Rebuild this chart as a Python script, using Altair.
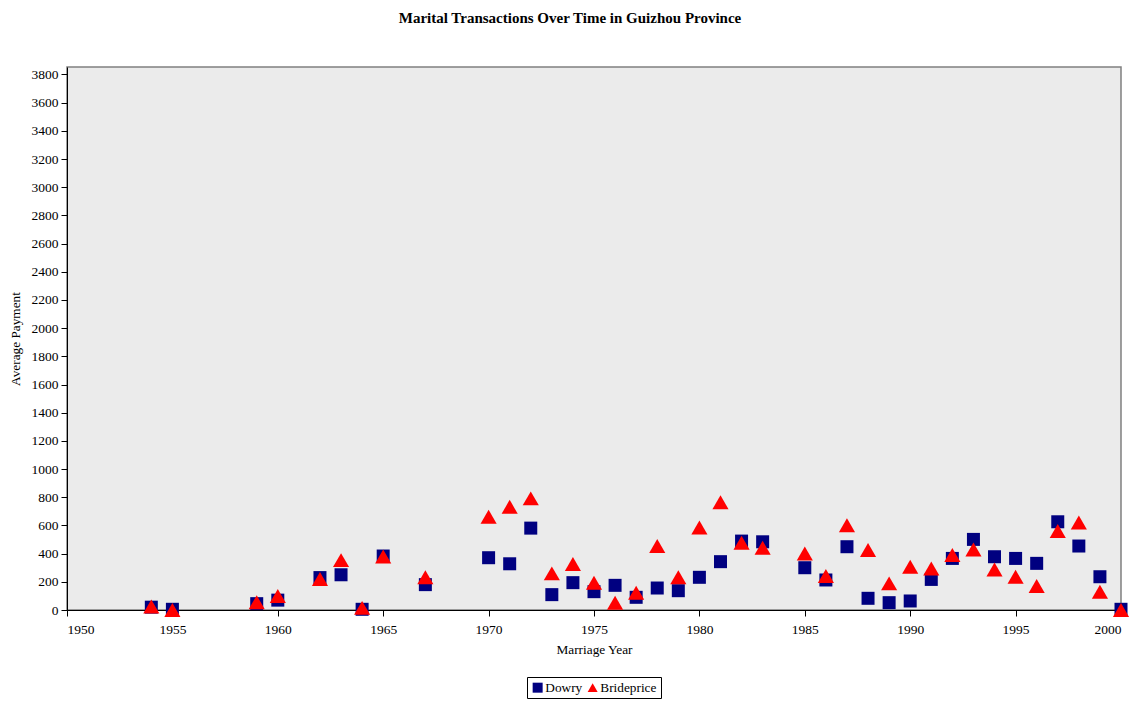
import altair as alt
import pandas as pd

years = [1954, 1955, 1959, 1960, 1962, 1963, 1964, 1965, 1967, 1970, 1971, 1972,
         1973, 1974, 1975, 1976, 1977, 1978, 1979, 1980, 1981, 1982, 1983, 1985,
         1986, 1987, 1988, 1989, 1990, 1991, 1992, 1993, 1994, 1995, 1996, 1997,
         1998, 1999, 2000]
dowry = [20, 5, 45, 70, 230, 250, 5, 383, 180, 371, 328, 581,
         109, 194, 130, 175, 90, 156, 137, 232, 343, 489, 484, 300,
         213, 449, 83, 52, 64, 217, 366, 501, 378, 366, 331, 626,
         454, 236, 5]
brideprice = [25, 0, 55, 100, 220, 354, 15, 380, 232, 661, 732, 792,
              260, 326, 194, 52, 123, 454, 232, 586, 765, 477, 442, 401,
              241, 602, 425, 189, 307, 295, 390, 430, 288, 236, 170, 560,
              621, 130, 0]
series_names = ["Dowry", "Brideprice"]
series_colors = ["#000080", "#FF0000"]
y_ticks = list(range(0, 3801, 200))
x_ticks = list(range(1950, 2001, 5))

rows = [{"year": y, "value": v, "series": "Dowry"} for y, v in zip(years, dowry)]
rows += [{"year": y, "value": v, "series": "Brideprice"} for y, v in zip(years, brideprice)]
df = pd.DataFrame(rows)

FONT = "Liberation Serif"

x_enc = alt.X("year:Q", scale=alt.Scale(domain=[1950, 2000], nice=False, zero=False),
              axis=alt.Axis(values=x_ticks, format="d", title="Marriage Year", grid=False,
                            domainColor="black", tickColor="black", tickSize=6,
                            labelFont=FONT, labelFontSize=13.5, labelColor="black",
                            titleFont=FONT, titleFontSize=13.3, titleFontWeight="normal",
                            titleColor="black", titlePadding=7, labelPadding=6))
y_enc = alt.Y("value:Q", scale=alt.Scale(domain=[0, 3853], nice=False),
              axis=alt.Axis(values=y_ticks, format="d", title="Average Payment", grid=False,
                            domainColor="black", tickColor="black", tickSize=6,
                            labelFont=FONT, labelFontSize=13.5, labelColor="black",
                            titleFont=FONT, titleFontSize=13.3, titleFontWeight="normal",
                            titleColor="black", titlePadding=9, labelPadding=3))
color_enc = alt.Color("series:N", scale=alt.Scale(domain=series_names, range=series_colors),
                      legend=alt.Legend(title=None, orient="none", direction="horizontal",
                                        legendX=460, legendY=610,
                                        labelFont=FONT, labelFontSize=13.3, labelColor="black",
                                        strokeColor="black", fillColor="white", padding=4,
                                        columnPadding=3, labelOffset=1, symbolSize=100,
                                        symbolOpacity=1, symbolStrokeWidth=0))
shape_enc = alt.Shape("series:N", scale=alt.Scale(domain=series_names,
                                                  range=["square", "triangle-up"]))

base = alt.Chart(df).mark_point(filled=True, opacity=1, strokeWidth=0)

dowry_layer = base.transform_filter(alt.datum.series == "Dowry").encode(
    x=x_enc, y=y_enc, color=color_enc, shape=shape_enc, size=alt.value(169))
bride_layer = base.transform_filter(alt.datum.series == "Brideprice").encode(
    x=x_enc, y=y_enc, color=color_enc, shape=shape_enc, size=alt.value(260))

chart = alt.layer(dowry_layer, bride_layer).properties(
    width=1054, height=543,
    title=alt.TitleParams("Marital Transactions Over Time in Guizhou Province",
                          font=FONT, fontSize=15, fontWeight="bold", color="black",
                          anchor="middle", offset=41, dx=-24),
    padding={"left": 59, "top": 59, "right": 9, "bottom": 91},
    autosize=alt.AutoSizeParams(type="none"),
    background="white",
).configure_view(
    fill="#EBEBEB", stroke="#808080", strokeWidth=1.5
)

chart.save("out.html", embed_options={"renderer": "svg", "actions": False})
